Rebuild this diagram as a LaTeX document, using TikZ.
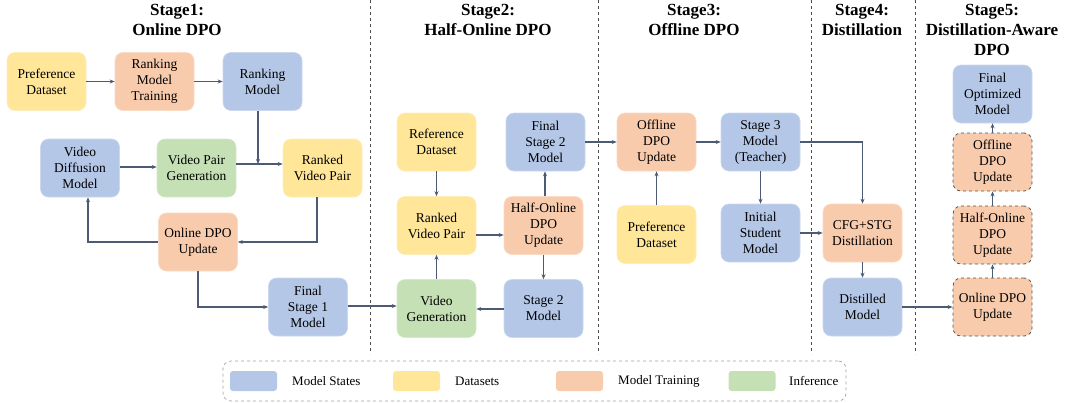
\documentclass[tikz,border=0pt]{standalone}
\usepackage{fontspec}
\setmainfont{Liberation Serif}
\usetikzlibrary{arrows.meta}
\definecolor{cblue}{HTML}{B4C7E7}
\definecolor{cyellow}{HTML}{FFE699}
\definecolor{corange}{HTML}{F8CBAD}
\definecolor{cgreen}{HTML}{C5E0B4}
\definecolor{cline}{HTML}{4D5A73}
\definecolor{cdash}{HTML}{555555}
\definecolor{clegend}{HTML}{9AA3B5}
\tikzset{
  box/.style={rounded corners=8pt, minimum width=79pt, minimum height=58pt, inner sep=1pt,
    align=center, font=\fontsize{13.5}{16}\selectfont, text=black},
  mstate/.style={box, fill=cblue, draw=cblue!70!white, line width=0.6pt},
  dset/.style={box, fill=cyellow, draw=cyellow!70!white, line width=0.6pt},
  mtrain/.style={box, fill=corange, draw=corange!70!white, line width=0.6pt},
  infer/.style={box, fill=cgreen, draw=cgreen!70!white, line width=0.6pt},
  dtrain/.style={box, fill=corange, draw=cdash, dashed, line width=0.8pt},
  arr/.style={draw=cline, line width=1.2pt, -{Stealth[length=5pt,width=4pt]}},
  sep/.style={draw=black!70, dashed, line width=0.6pt},
  header/.style={align=center, inner sep=0pt, font=\fontsize{17}{20}\selectfont\bfseries},
  swatch/.style={rounded corners=3pt, minimum width=47pt, minimum height=20pt, inner sep=0pt},
  legtext/.style={anchor=west, inner sep=0pt, font=\fontsize{13}{15}\selectfont}
}
\begin{document}
\begin{tikzpicture}[x=1pt, y=-1pt]
\useasboundingbox (0,0) rectangle (1065,402);

% separators
\coordinate (s1t) at (370,0); \coordinate (s1b) at (370,354);
\coordinate (s2t) at (598,0); \coordinate (s2b) at (598,354);
\coordinate (s3t) at (811,0); \coordinate (s3b) at (811,354);
\coordinate (s4t) at (915,0); \coordinate (s4b) at (915,354);
\draw[sep] (s1t) -- (s1b);
\draw[sep] (s2t) -- (s2b);
\draw[sep] (s3t) -- (s3b);
\draw[sep] (s4t) -- (s4b);

% headers
\node[header] (h1) at (177,19.5) {Stage1:\\Online DPO};
\node[header] (h2) at (488,19.5) {Stage2:\\Half-Online DPO};
\node[header] (h3) at (694,19.5) {Stage3:\\Offline DPO};
\node[header] (h4) at (862,19.5) {Stage4:\\Distillation};
\node[header] (h5) at (992,29.5) {Stage5:\\Distillation-Aware\\DPO};

% Stage 1
\node[dset]   (pd1)  at (46.5,81.5) {Preference\\Dataset};
\node[mtrain] (rmt)  at (154.5,81.5) {Ranking\\Model\\Training};
\node[mstate] (rm)   at (262.5,81.5) {Ranking\\Model};
\node[mstate] (vdm)  at (80,168) {Video\\Diffusion\\Model};
\node[infer]  (vpg)  at (196.5,168) {Video Pair\\Generation};
\node[dset]   (rvp1) at (322.5,168) {Ranked\\Video Pair};
\node[mtrain] (odu)  at (198,242) {Online DPO\\Update};
\node[mstate] (fs1)  at (308,307) {Final\\Stage 1\\Model};

% Stage 2
\node[dset]   (refd) at (436.5,142) {Reference\\Dataset};
\node[mstate] (fs2)  at (545.5,142) {Final\\Stage 2\\Model};
\node[dset]   (rvp2) at (436.5,225.5) {Ranked\\Video Pair};
\node[mtrain] (hodu) at (543.5,225.5) {Half-Online\\DPO\\Update};
\node[infer]  (vg)   at (436.5,308.5) {Video\\Generation};
\node[mstate] (s2m)  at (543.5,308.5) {Stage 2\\Model};

% Stage 3
\node[mtrain] (ofu)  at (656.5,142) {Offline\\DPO\\Update};
\node[mstate] (s3m)  at (760.5,142) {Stage 3\\Model\\(Teacher)};
\node[dset]   (pd3)  at (656.5,234.5) {Preference\\Dataset};
\node[mstate] (ism)  at (760.5,233) {Initial\\Student\\Model};

% Stage 4
\node[mtrain] (cfg)  at (862.5,233) {CFG+STG\\Distillation};
\node[mstate] (dm)   at (862.5,307) {Distilled\\Model};

% Stage 5
\node[mstate] (fom)    at (992.5,94) {Final\\Optimized\\Model};
\node[dtrain] (s5off)  at (992.5,162) {Offline\\DPO\\Update};
\node[dtrain] (s5half) at (992.5,235) {Half-Online\\DPO\\Update};
\node[dtrain] (s5on)   at (992.5,307) {Online DPO\\Update};

% bend / helper coordinates
\coordinate (c1) at (258,164);
\coordinate (c2) at (317,242);
\coordinate (c3) at (88,242);
\coordinate (c4) at (198,307);
\coordinate (c5) at (0,306);
\coordinate (c6) at (0,235);
\coordinate (c7) at (545,0);
\coordinate (c8) at (862.5,142);
\coordinate (c9) at (0,167);
\coordinate (c10) at (0,309);

% Stage 1 connectors
\draw[arr] (pd1) -- (rmt);
\draw[arr] (rmt) -- (rm);
\draw[arr] (vdm.east |- c9) -- (vpg.west |- c9);
\draw[arr] (vpg.east |- c1) -- (rvp1.west |- c1);
\draw[arr] (rm.south -| c1) -- (c1);
\draw[arr] (rvp1.south -| c2) -- (c2) -- (odu.east |- c2);
\draw[arr] (odu.west |- c3) -- (c3) -- (vdm.south -| c3);
\draw[arr] (odu.south -| c4) -- (c4) -- (fs1.west |- c4);
\draw[arr] (fs1.east |- c5) -- (vg.west |- c5);

% Stage 2 connectors
\draw[arr] (refd) -- (rvp2);
\draw[arr] (vg) -- (rvp2);
\draw[arr] (rvp2.east |- c6) -- (hodu.west |- c6);
\draw[arr] (hodu.north -| c7) -- (fs2.south -| c7);
\draw[arr] (hodu) -- (s2m);
\draw[arr] (s2m.west |- c10) -- (vg.east |- c10);
\draw[arr] (fs2) -- (ofu);

% Stage 3 connectors
\draw[arr] (ofu) -- (s3m);
\draw[arr] (s3m.east) -- (c8) -- (cfg.north);
\draw[arr] (s3m) -- (ism);
\draw[arr] (ism) -- (cfg);
\draw[arr] (pd3) -- (ofu);

% Stage 4/5 connectors
\draw[arr] (cfg) -- (dm);
\draw[arr] (dm) -- (s5on);
\draw[arr] (s5on) -- (s5half);
\draw[arr] (s5half) -- (s5off);
\draw[arr] (s5off) -- (fom);

% legend
\node[draw=clegend, dashed, rounded corners=8pt, line width=0.7pt, minimum width=623pt, minimum height=40pt, inner sep=0pt] (leg) at (534.5,381) {};
\node[swatch, fill=cblue]   (sw1) at (253.5,381) {};
\node[swatch, fill=cyellow] (sw2) at (416.5,381) {};
\node[swatch, fill=corange] (sw3) at (579.5,381) {};
\node[swatch, fill=cgreen]  (sw4) at (752,381) {};
\node[legtext] (lt1) at (292,381) {Model States};
\node[legtext] (lt2) at (455,381) {Datasets};
\node[legtext] (lt3) at (618,381) {Model Training};
\node[legtext] (lt4) at (789,381) {Inference};
\end{tikzpicture}
\end{document}
